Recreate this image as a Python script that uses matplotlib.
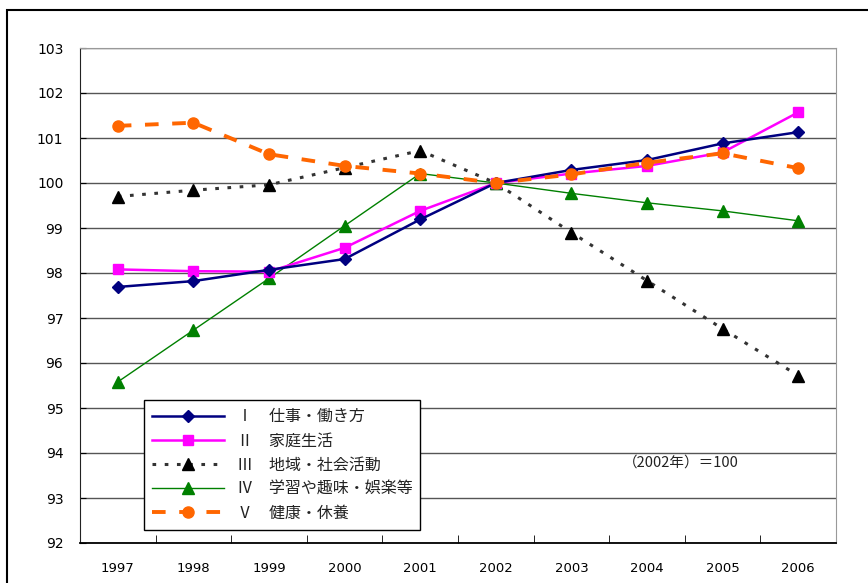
import numpy as np
import matplotlib.pyplot as plt
from matplotlib.patches import Rectangle

plt.rcParams['font.family'] = ['Noto Sans CJK JP', 'DejaVu Sans']

# data
years = ['1997', '1998', '1999', '2000', '2001', '2002', '2003', '2004', '2005', '2006']
work = [97.69, 97.82, 98.07, 98.31, 99.19, 100.0, 100.29, 100.51, 100.88, 101.13]
home = [98.08, 98.04, 98.03, 98.56, 99.38, 100.0, 100.21, 100.38, 100.68, 101.57]
community = [99.70, 99.84, 99.96, 100.34, 100.72, 100.0, 98.90, 97.83, 96.76, 95.72]
learning = [95.58, 96.73, 97.88, 99.05, 100.21, 100.0, 99.77, 99.56, 99.38, 99.16]
health = [101.27, 101.34, 100.64, 100.38, 100.21, 100.0, 100.19, 100.45, 100.66, 100.33]
labels = ['Ⅰ　仕事・働き方', 'Ⅱ　家庭生活', 'Ⅲ　地域・社会活動',
          'Ⅳ　学習や趣味・娯楽等', 'Ⅴ　健康・休養']
note = '（2002年）＝100'

fig = plt.figure(figsize=(8.68, 5.83), dpi=100)
ax = fig.add_axes([80 / 868, 1 - 543 / 583, (836 - 80) / 868, (543 - 48) / 583])

x = np.arange(len(years))
ax.plot(x, work, color='#000080', lw=1.8, marker='D', ms=6, label=labels[0], zorder=5)
ax.plot(x, home, color='#ff00ff', lw=1.8, marker='s', ms=7, label=labels[1], zorder=4)
ax.plot(x, community, color='#333333', lw=2.2, ls=(0, (1.2, 2.8)), marker='^', ms=8,
        mfc='black', mec='black', label=labels[2], zorder=3)
ax.plot(x, learning, color='#008000', lw=1.0, marker='^', ms=8, label=labels[3], zorder=3)
ax.plot(x, health, color='#ff6600', lw=2.8, ls=(0, (3.5, 3.5)), marker='o', ms=8,
        label=labels[4], zorder=6)

ax.set_xlim(-0.5, len(years) - 0.5)
ax.set_ylim(92, 103)
ax.set_yticks(range(92, 104))
ax.set_xticks(x)
ax.set_xticklabels(years, family='DejaVu Sans', fontsize=9.5)
ax.set_xticks(np.arange(0.5, len(years) - 1, 1), minor=True)
ax.tick_params(axis='x', which='major', length=0, pad=14)
ax.tick_params(axis='x', which='minor', direction='in', length=6, color='black')
ax.tick_params(axis='y', direction='in', length=4, labelsize=10, pad=12)
for t in ax.get_yticklabels():
    t.set_family('DejaVu Sans')

ax.yaxis.grid(True, color='#555555', lw=1.0)
ax.set_axisbelow(True)
for s in ['top', 'right']:
    ax.spines[s].set_color('#999999')
ax.spines['left'].set_color('#222222')
ax.spines['bottom'].set_color('black')
ax.spines['bottom'].set_linewidth(1.3)

ax.text(7.45, 93.78, note, ha='center', va='center', fontsize=10.5, color='#222222')

leg = ax.legend(loc='lower left', bbox_to_anchor=((136 - 80) / 756, (543 - 538) / 495),
                fontsize=11.5, frameon=True, fancybox=False, edgecolor='black',
                framealpha=1, handlelength=4.5, borderpad=0.5, labelspacing=0.45)
leg.get_frame().set_linewidth(1.0)
for t in leg.get_texts():
    t.set_color('#222222')

# outer frame
fig.patches.append(Rectangle((7 / 868, -0.1), 1.2, 1 - 10 / 583 + 0.1,
                             transform=fig.transFigure, fill=False, ec='black', lw=1.5))

fig.savefig('out.png', dpi=100)
